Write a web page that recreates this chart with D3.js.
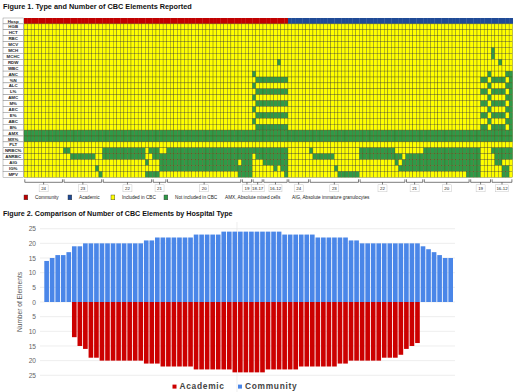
<!DOCTYPE html>
<html>
<head>
<meta charset="utf-8">
<script src="https://cdn.jsdelivr.net/npm/d3@7"></script>
<style>
  body { margin: 0; background: #fff; }
  svg { display: block; font-family: Arial, "Liberation Sans", sans-serif; }
</style>
</head>
<body>
<svg id="chart" width="520" height="392"></svg>
<script>
// ---- data ----
const elements = ["HGB","HCT","RBC","MCV","MCH","MCHC","RDW","WBC","ANC","%N","ALC","L%","AMC","M%",
                  "AEC","E%","ABC","B%","AMX","MX%","PLT","NRBC%","ANRBC","AIG","IG%","MPV"];

const communityGroups = ["24","23","22","21","20","19","18-17","16-12"];
const communityGroupSizes = [11, 11, 14, 4, 21, 3, 3, 7];
const academicGroups = ["24","23","22","21","20","19","16-12"];
const academicGroupSizes = [6, 14, 13, 5, 13, 6, 6];

// elements NOT included, one entry per hospital (heatmap column order)
const communityMissing = [
  "AMX MX%","AMX MX%","AMX MX%","AMX MX%","AMX MX%","AMX MX%","AMX MX%","AMX MX%","AMX MX%","AMX MX%","AMX MX%",
  "AMX MX% NRBC%","AMX MX% NRBC%",
  "AMX MX% ANRBC","AMX MX% ANRBC","AMX MX% ANRBC","AMX MX% ANRBC","AMX MX% ANRBC","AMX MX% ANRBC","AMX MX% ANRBC",
  "AMX MX% IG%","AMX MX% MPV",
  "AMX MX% NRBC% ANRBC","AMX MX% NRBC% ANRBC","AMX MX% NRBC% ANRBC","AMX MX% NRBC% ANRBC","AMX MX% NRBC% ANRBC",
  "AMX MX% NRBC% ANRBC","AMX MX% NRBC% ANRBC","AMX MX% NRBC% ANRBC","AMX MX% NRBC% ANRBC","AMX MX% NRBC% ANRBC",
  "AMX MX% NRBC% ANRBC","AMX MX% NRBC% ANRBC","AMX MX% AIG MPV","AMX MX% NRBC% MPV",
  "AMX MX% NRBC% ANRBC MPV","AMX MX% NRBC% ANRBC MPV","AMX MX% ANRBC AIG IG%","AMX MX% ANRBC AIG IG%",
  "AMX MX% NRBC% ANRBC AIG IG%","AMX MX% NRBC% ANRBC AIG IG%","AMX MX% NRBC% ANRBC AIG IG%","AMX MX% NRBC% ANRBC AIG IG%",
  "AMX MX% NRBC% ANRBC AIG IG%","AMX MX% NRBC% ANRBC AIG IG%","AMX MX% NRBC% ANRBC AIG IG%","AMX MX% NRBC% ANRBC AIG IG%",
  "AMX MX% NRBC% ANRBC AIG IG%","AMX MX% NRBC% ANRBC AIG IG%","AMX MX% NRBC% ANRBC AIG IG%","AMX MX% NRBC% ANRBC AIG IG%",
  "AMX MX% NRBC% ANRBC AIG IG%","AMX MX% NRBC% ANRBC AIG IG%","AMX MX% NRBC% ANRBC AIG IG%","AMX MX% NRBC% ANRBC AIG IG%",
  "AMX MX% NRBC% ANRBC AIG IG%","AMX MX% NRBC% ANRBC AIG IG%","AMX MX% NRBC% ANRBC AIG IG%","AMX MX% NRBC% ANRBC AIG IG%",
  "AMX MX% NRBC% ANRBC IG% MPV",
  "AMX MX% NRBC% ANRBC AIG IG% MPV","AMX MX% NRBC% ANRBC AIG IG% MPV","AMX MX% NRBC% ANRBC AIG IG% MPV",
  "ANC ALC AMC AEC ABC AMX MX% NRBC%",
  "%N L% M% E% B% AMX MX% NRBC% ANRBC","%N L% M% E% B% AMX MX% NRBC% ANRBC",
  "%N L% M% E% B% AMX MX% NRBC% ANRBC AIG","%N L% M% E% B% AMX MX% NRBC% ANRBC AIG","%N L% M% E% B% AMX MX% NRBC% ANRBC AIG",
  "%N L% M% E% B% AMX MX% NRBC% ANRBC AIG IG%","RDW %N L% M% E% B% AMX MX% NRBC% ANRBC AIG","%N L% M% E% B% AMX MX% NRBC% ANRBC AIG IG%",
  "%N L% M% E% B% AMX MX% NRBC% ANRBC AIG IG% MPV"
];
const academicMissing = [
  "AMX MX%","AMX MX%","AMX MX%","AMX MX%","AMX MX%","AMX MX%",
  "AMX MX% NRBC%",
  "AMX MX% ANRBC","AMX MX% ANRBC","AMX MX% ANRBC","AMX MX% ANRBC","AMX MX% ANRBC","AMX MX% ANRBC",
  "AMX MX% IG%",
  "AMX MX% MPV","AMX MX% MPV","AMX MX% MPV","AMX MX% MPV","AMX MX% MPV","AMX MX% MPV",
  "AMX MX% NRBC% ANRBC","AMX MX% NRBC% ANRBC","AMX MX% NRBC% ANRBC","AMX MX% NRBC% ANRBC","AMX MX% NRBC% ANRBC",
  "AMX MX% NRBC% ANRBC","AMX MX% NRBC% ANRBC","AMX MX% NRBC% ANRBC","AMX MX% NRBC% ANRBC","AMX MX% NRBC% ANRBC",
  "AMX MX% ANRBC AIG","AMX MX% ANRBC IG%","AMX MX% AIG IG%",
  "AMX MX% ANRBC AIG IG%","AMX MX% ANRBC AIG IG%","AMX MX% ANRBC AIG IG%","AMX MX% ANRBC AIG IG%","AMX MX% ANRBC AIG IG%",
  "AMX MX% NRBC% ANRBC AIG IG%","AMX MX% NRBC% ANRBC AIG IG%","AMX MX% NRBC% ANRBC AIG IG%","AMX MX% NRBC% ANRBC AIG IG%",
  "AMX MX% NRBC% ANRBC AIG IG%","AMX MX% NRBC% ANRBC AIG IG%","AMX MX% NRBC% ANRBC AIG IG%","AMX MX% NRBC% ANRBC AIG IG%",
  "AMX MX% NRBC% ANRBC AIG IG%","AMX MX% NRBC% ANRBC AIG IG%","AMX MX% NRBC% ANRBC AIG IG%","AMX MX% NRBC% ANRBC AIG IG%",
  "AMX MX% NRBC% ANRBC AIG IG% MPV",
  "AMX MX% NRBC% ANRBC AIG IG% MPV","AMX MX% NRBC% ANRBC AIG IG% MPV","AMX MX% NRBC% ANRBC AIG IG% MPV",
  "%N L% M% E% B% AMX MX%","%N L% M% E% B% AMX MX%","ANC ALC AMC AEC ABC AMX MX%",
  "MCH MCHC %N L% M% E% B% AMX MX% NRBC%","%N L% M% E% B% AMX MX% NRBC% ANRBC AIG",
  "RDW %N L% M% E% B% AMX MX% NRBC% ANRBC AIG","%N L% M% E% B% AMX MX% NRBC% ANRBC IG% MPV",
  "ANC ALC AMC AEC ABC AMX MX% NRBC% ANRBC IG% MPV","ANC %N ALC L% AMC M% AEC E% ABC B% AMX MX% NRBC% ANRBC"
];

// Figure 2: number of elements per hospital, plotted slot by slot
const communityCounts = [14,15,16,16,17,19,19,20,20,20,20,20,20,20,20,20,20,20,21,21,22,22,22,22,22,22,22,
  23,23,23,23,23,24,24,24,24,24,24,24,24,24,24,24,23,23,23,23,23,23,22,22,22,22,22,22,21,21,
  20,20,20,20,20,20,20,20,20,20,20,19,18,17,16,15,15];
const academicCounts = [null,null,null,null,null,12,15,16,19,19,20,20,20,20,20,20,20,20,21,21,21,
  22,22,22,22,22,22,23,23,23,23,23,23,23,24,24,24,24,24,24,23,23,23,23,23,23,
  22,22,22,22,22,22,22,21,21,20,20,20,20,20,20,19,19,19,18,16,15,14,null,null,null,null,null,null];
const countTicks = [-25,-20,-15,-10,-5,0,5,10,15,20,25];

// ---- colours ----
const colIncluded = "#ffff00", colMissing = "#2f9a48";
const colCommunity1 = "#c00000", colAcademic1 = "#1f4a96";
const colCommunity2 = "#4a86e8", colAcademic2 = "#cc0000";

const svg = d3.select("#chart");

// ================= Figure 1 =================
svg.append("text").attr("x", 3).attr("y", 8.5)
  .attr("font-size", 7.3).attr("font-weight", "bold").attr("fill", "#111")
  .text("Figure 1. Type and Number of CBC Elements Reported");

const hospitals = [
  ...communityMissing.map((m, i) => ({id: "c" + i, type: "Community", missing: m.split(" ")})),
  ...academicMissing.map((m, i) => ({id: "a" + i, type: "Academic", missing: m.split(" ")}))
];
const rows = ["Hosp", ...elements];

const hx = d3.scaleBand().domain(hospitals.map(d => d.id)).range([24, 512.7]);
const hy = d3.scaleBand().domain(rows).range([18, 177.3]);

// row label boxes
const lab = svg.append("g");
lab.selectAll("rect").data(rows).join("rect")
  .attr("x", 3).attr("y", d => hy(d)).attr("width", 20.5).attr("height", hy.bandwidth())
  .attr("fill", "#fff").attr("stroke", "#777").attr("stroke-width", 0.4);
lab.selectAll("text").data(rows).join("text")
  .attr("x", 13.2).attr("y", d => hy(d) + hy.bandwidth() / 2 + 1.6)
  .attr("text-anchor", "middle").attr("font-size", 4.4).attr("font-weight", "bold").attr("fill", "#222")
  .text(d => d);

// hospital type row
svg.append("g").selectAll("rect").data(hospitals).join("rect")
  .attr("x", d => hx(d.id)).attr("y", hy("Hosp")).attr("width", hx.bandwidth() + 0.3).attr("height", hy.bandwidth())
  .attr("fill", d => d.type === "Community" ? colCommunity1 : colAcademic1);

// cells
const cells = [];
hospitals.forEach(h => elements.forEach(e => cells.push({h: h.id, e, miss: h.missing.includes(e)})));
svg.append("g").selectAll("rect").data(cells).join("rect")
  .attr("x", d => hx(d.h)).attr("y", d => hy(d.e))
  .attr("width", hx.bandwidth()).attr("height", hy.bandwidth())
  .attr("fill", d => d.miss ? colMissing : colIncluded)
  .attr("stroke", "#55551c").attr("stroke-width", 0.35);

// group brackets
function groupSpans(names, sizes, start) {
  let k = start;
  return names.map((n, i) => { const s = k; k += sizes[i]; return {label: n, first: s, last: k - 1}; });
}
const spans = [
  ...groupSpans(communityGroups, communityGroupSizes, 0),
  ...groupSpans(academicGroups, academicGroupSizes, communityMissing.length)
];
const ids = hx.domain();
const br = svg.append("g");
const by = 182.3;
spans.forEach(s => {
  const x0 = hx(ids[s.first]) + 0.8, x1 = hx(ids[s.last]) + hx.bandwidth() - 0.8, xm = (x0 + x1) / 2;
  br.append("path").attr("d", `M${x0},${by - 3}V${by}H${x1}V${by - 3}M${xm},${by}V${by + 2.5}`)
    .attr("fill", "none").attr("stroke", "#222").attr("stroke-width", 0.6);
  const w = s.label.length > 2 ? 13 : 9;
  br.append("rect").attr("x", xm - w / 2).attr("y", by + 2.5).attr("width", w).attr("height", 7)
    .attr("fill", "#fff").attr("stroke", "#bbb").attr("stroke-width", 0.4);
  br.append("text").attr("x", xm).attr("y", by + 7.6).attr("text-anchor", "middle")
    .attr("font-size", 4.4).attr("fill", "#222").text(s.label);
});

// legend figure 1
const leg1 = [
  {sw: colCommunity1, t: "Community", x: 24},
  {sw: colAcademic1, t: "Academic", x: 68},
  {sw: colIncluded, t: "Included in CBC", x: 111},
  {sw: colMissing, t: "Not included in CBC", x: 164}
];
const l1 = svg.append("g");
leg1.forEach(d => {
  l1.append("rect").attr("x", d.x).attr("y", 195).attr("width", 3.8).attr("height", 4.8)
    .attr("fill", d.sw).attr("stroke", "#333").attr("stroke-width", 0.4);
  l1.append("text").attr("x", d.x + 11).attr("y", 199.2).attr("font-size", 4.7).attr("fill", "#222").text(d.t);
});
l1.append("text").attr("x", 225).attr("y", 199.2).attr("font-size", 4.7).attr("fill", "#222")
  .text("AMX, Absolute mixed cells");
l1.append("text").attr("x", 292).attr("y", 199.2).attr("font-size", 4.7).attr("fill", "#222")
  .text("AIG, Absolute immature granulocytes");

// ================= Figure 2 =================
svg.append("text").attr("x", 3).attr("y", 216)
  .attr("font-size", 7.15).attr("font-weight", "bold").attr("fill", "#111")
  .text("Figure 2. Comparison of Number of CBC Elements by Hospital Type");

const slots = d3.range(communityCounts.length);
const bx = d3.scaleBand().domain(slots).range([44.3, 453]).paddingInner(0.16);
const byS = d3.scaleLinear().domain([25, -25]).range([228.7, 375.3]);

const g2 = svg.append("g");
g2.selectAll("line.grid").data(countTicks).join("line").attr("class", "grid")
  .attr("x1", 40).attr("x2", 455).attr("y1", d => byS(d)).attr("y2", d => byS(d))
  .attr("stroke", "#e6e6e6").attr("stroke-width", 0.7);
g2.append("line").attr("x1", 237).attr("x2", 237).attr("y1", 222).attr("y2", 392)
  .attr("stroke", "#e6e6e6").attr("stroke-width", 0.7);

const yAxis = d3.axisLeft(byS).tickValues(countTicks).tickFormat(d => Math.abs(d)).tickSize(0).tickPadding(4);
g2.append("g").attr("transform", "translate(40,0)").call(yAxis)
  .call(a => a.select(".domain").remove())
  .call(a => a.selectAll("text").attr("font-size", 6.6).attr("fill", "#666").attr("font-family", "Arial, sans-serif"));

g2.append("text").attr("transform", `translate(22,${byS(0)}) rotate(-90)`)
  .attr("text-anchor", "middle").attr("font-size", 6.6).attr("fill", "#555")
  .text("Number of Elements");

g2.append("g").selectAll("rect").data(slots.filter(i => communityCounts[i] != null)).join("rect")
  .attr("x", i => bx(i)).attr("width", bx.bandwidth())
  .attr("y", i => byS(communityCounts[i])).attr("height", i => byS(0) - byS(communityCounts[i]))
  .attr("fill", colCommunity2);
g2.append("g").selectAll("rect").data(slots.filter(i => academicCounts[i] != null)).join("rect")
  .attr("x", i => bx(i)).attr("width", bx.bandwidth())
  .attr("y", byS(0)).attr("height", i => byS(-academicCounts[i]) - byS(0))
  .attr("fill", colAcademic2);

// legend figure 2
const leg2 = [{sw: colAcademic2, t: "Academic", x: 172.5}, {sw: colCommunity2, t: "Community", x: 238}];
leg2.forEach(d => {
  g2.append("rect").attr("x", d.x).attr("y", 384.6).attr("width", 4).attr("height", 4).attr("fill", d.sw);
  g2.append("text").attr("x", d.x + 7).attr("y", 389.4).attr("font-size", 8.4).attr("font-weight", "bold")
    .attr("letter-spacing", 0.7).attr("fill", "#444").text(d.t);
});
</script>
</body>
</html>
